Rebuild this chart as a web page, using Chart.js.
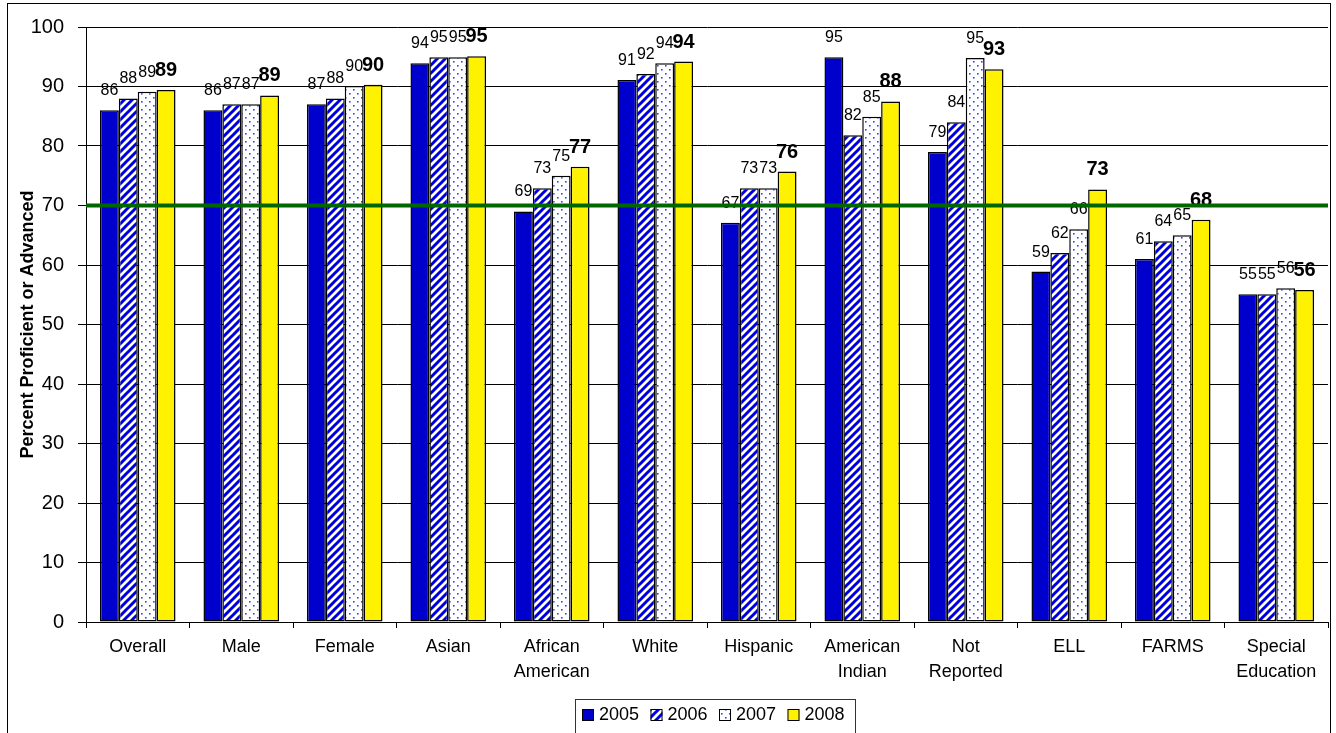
<!DOCTYPE html>
<html>
<head>
<meta charset="utf-8">
<script src="https://cdn.jsdelivr.net/npm/chart.js@4/dist/chart.umd.min.js"></script>
<style>
  html, body { margin: 0; padding: 0; background: #ffffff; }
  #wrap { width: 1336px; height: 733px; position: relative; }
</style>
</head>
<body>
<div id="wrap"><canvas id="c" width="1336" height="733"></canvas></div>
<script>
// ---- Data ----
const categories = [
  'Overall', 'Male', 'Female', 'Asian', ['African', 'American'], 'White',
  'Hispanic', ['American', 'Indian'], ['Not', 'Reported'], 'ELL', 'FARMS', ['Special', 'Education']
];
const seriesNames = ['2005', '2006', '2007', '2008'];
const values2005 = [86.0, 86.0, 87.0, 93.9, 69.0, 91.1, 67.1, 94.9, 79.0, 58.9, 61.0, 55.1];
const values2006 = [88.0, 87.0, 88.0, 94.9, 72.9, 92.1, 72.9, 81.8, 84.0, 62.0, 64.0, 55.1];
const values2007 = [89.1, 87.0, 90.1, 94.9, 75.0, 93.9, 72.9, 84.9, 94.8, 66.0, 65.0, 56.1];
const values2008 = [89.4, 88.5, 90.3, 95.1, 76.5, 94.2, 75.7, 87.5, 92.9, 72.7, 67.6, 55.8];
const targetValue = 70;
const yTicks = [0, 10, 20, 30, 40, 50, 60, 70, 80, 90, 100];

// ---- Patterns ----
function stripePattern() {
  const t = document.createElement('canvas');
  t.width = 8; t.height = 8;
  const g = t.getContext('2d');
  g.fillStyle = '#ffffff'; g.fillRect(0, 0, 8, 8);
  g.strokeStyle = '#0000DD'; g.lineWidth = 3;
  g.beginPath();
  g.moveTo(-2, 10); g.lineTo(10, -2);
  g.moveTo(-6, 6); g.lineTo(6, -6);
  g.moveTo(2, 14); g.lineTo(14, 2);
  g.stroke();
  return g.createPattern(t, 'repeat');
}
function dotPattern() {
  const t = document.createElement('canvas');
  t.width = 8; t.height = 8;
  const g = t.getContext('2d');
  g.fillStyle = '#ffffff'; g.fillRect(0, 0, 8, 8);
  g.fillStyle = '#3344FF';
  g.fillRect(1, 1, 1.6, 1.6);
  g.fillRect(5, 5, 1.6, 1.6);
  return g.createPattern(t, 'repeat');
}

const FONT = "Arial, 'Liberation Sans', sans-serif";

const dataLabels = {
  id: 'dataLabels',
  afterDatasetsDraw(chart) {
    const ctx = chart.ctx;
    ctx.save();
    ctx.textAlign = 'center';
    ctx.textBaseline = 'alphabetic';
    ctx.fillStyle = '#000';
    chart.data.datasets.forEach((ds, di) => {
      const meta = chart.getDatasetMeta(di);
      const bold = di === 3;
      ctx.font = bold ? 'bold 20px ' + FONT : '16px ' + FONT;
      meta.data.forEach((el, i) => {
        ctx.fillText(String(Math.round(ds.data[i])), el.x, el.y - (bold ? 14 : 15));
      });
    });
    ctx.restore();
  }
};

const targetLine = {
  id: 'targetLine',
  afterDatasetsDraw(chart) {
    const { ctx, chartArea } = chart;
    const y = chart.scales.y.getPixelForValue(targetValue);
    ctx.save();
    ctx.strokeStyle = '#006600';
    ctx.lineWidth = 4;
    ctx.beginPath();
    ctx.moveTo(chartArea.left, y);
    ctx.lineTo(chartArea.right, y);
    ctx.stroke();
    ctx.restore();
  }
};

const frameAndLegend = {
  id: 'frameAndLegend',
  afterDraw(chart) {
    const ctx = chart.ctx;
    ctx.save();
    // outer frame
    ctx.strokeStyle = '#000';
    ctx.lineWidth = 1;
    ctx.strokeRect(7.5, 3.5, 1323, 760);
    // legend box
    ctx.strokeStyle = '#333';
    ctx.strokeRect(575.5, 699.5, 280, 40);
    ctx.font = '18px ' + FONT;
    ctx.textBaseline = 'middle';
    ctx.textAlign = 'left';
    chart.data.datasets.forEach((ds, i) => {
      const x = 582 + i * 68.5;
      const y = 715;
      ctx.fillStyle = ds.backgroundColor;
      ctx.fillRect(x, y - 6, 12, 12);
      ctx.strokeStyle = '#000';
      ctx.lineWidth = 1;
      ctx.strokeRect(x + 0.5, y - 5.5, 11, 11);
      ctx.fillStyle = '#000';
      ctx.fillText(ds.label, x + 17, y);
    });
    ctx.restore();
  }
};

const seriesValues = [values2005, values2006, values2007, values2008];
const fills = ['#0000CC', stripePattern(), dotPattern(), '#FFF200'];

new Chart(document.getElementById('c'), {
  type: 'bar',
  data: {
    labels: categories,
    datasets: seriesNames.map((name, i) => ({
      label: name,
      data: seriesValues[i],
      backgroundColor: fills[i],
      borderColor: '#000000',
      borderWidth: 1.5,
      borderSkipped: false,
      categoryPercentage: 0.73,
      barPercentage: 1.0
    }))
  },
  options: {
    responsive: false,
    devicePixelRatio: 1,
    animation: false,
    layout: { padding: { top: 27, right: 8, left: 0, bottom: 0 } },
    plugins: {
      legend: { display: false },
      tooltip: { enabled: false },
      title: { display: false }
    },
    scales: {
      x: {
        grid: { drawOnChartArea: false, drawTicks: true, tickLength: 6, color: '#000', offset: true },
        border: { display: true, color: '#000', width: 1 },
        ticks: {
          color: '#000',
          font: { family: FONT, size: 18, lineHeight: 1.4 },
          padding: 6,
          maxRotation: 0,
          autoSkip: false
        },
        afterFit(scale) { scale.height = 111; }
      },
      y: {
        min: 0, max: 100,
        afterBuildTicks(scale) { scale.ticks = yTicks.map(v => ({ value: v })); },
        grid: { color: '#000', lineWidth: 1, tickLength: 8, drawTicks: true },
        border: { display: true, color: '#000', width: 1 },
        ticks: { color: '#000', font: { family: FONT, size: 20 }, padding: 14 },
        title: {
          display: true,
          text: 'Percent Proficient or Advanced',
          color: '#000',
          font: { family: FONT, size: 18, weight: 'bold' },
          padding: { top: 17, bottom: 0 }
        },
        afterFit(scale) { scale.width = 86; }
      }
    }
  },
  plugins: [dataLabels, targetLine, frameAndLegend]
});
</script>
</body>
</html>
